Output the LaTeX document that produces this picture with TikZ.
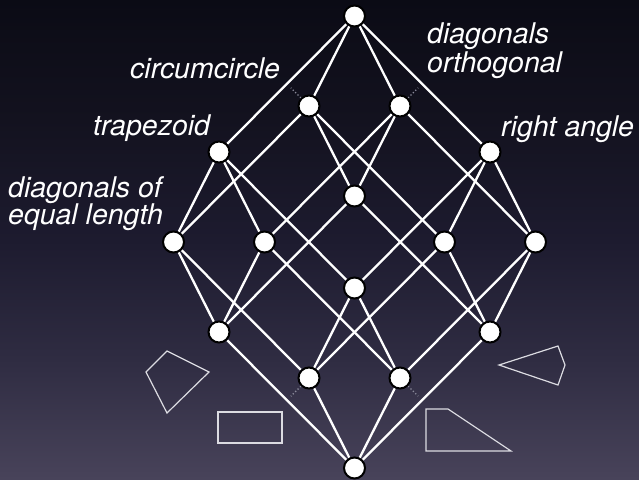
\documentclass[tikz,border=0pt]{standalone}
\usepackage{fontspec}
\setmainfont{TeX Gyre Heros}
\usetikzlibrary{calc}

\definecolor{bgtop}{HTML}{0B0B15}
\definecolor{bgq1}{HTML}{13121F}
\definecolor{bgmid}{HTML}{1D1B2F}
\definecolor{bgq3}{HTML}{2F2C42}
\definecolor{bgbot}{HTML}{48435A}
\definecolor{dotgray}{HTML}{8A8A9A}
\definecolor{shapeline}{HTML}{DCDCE2}

% vertical backdrop; TikZ maps the filled box onto the 25bp--75bp band
\pgfdeclareverticalshading{backdrop}{100bp}{%
  color(0bp)=(bgbot); color(25bp)=(bgbot); color(37.5bp)=(bgq3);
  color(49.95bp)=(bgmid); color(62.5bp)=(bgq1);
  color(75bp)=(bgtop); color(100bp)=(bgtop)}

\pgfdeclarelayer{under}
\pgfsetlayers{under,main}

\tikzset{
  vertex/.style={circle, fill=white, draw=black, line width=2pt,
                 minimum size=21pt, inner sep=0pt},
  edge/.style={white, line width=2.3pt},
  dotline/.style={dotgray, line width=1.4pt, dash pattern=on 1.2pt off 2.2pt},
  quad/.style={shapeline, line width=1.2pt, line join=miter},
  lbl/.style={text=white, anchor=base west, inner sep=0pt,
              font=\fontsize{28.5}{30}\selectfont\itshape},
}

\begin{document}
\begin{tikzpicture}[x=1pt, y=-1pt]
  \useasboundingbox (0,0) rectangle (639,479);
  \begin{pgfonlayer}{under}
    \shade[shading=backdrop] (0,0) rectangle (639,479);
  \end{pgfonlayer}

  % Hasse diagram of a 4-cube: top plus generators a, b, c, d
  \coordinate (top) at (354.5,16);
  \coordinate (ga) at (-45.5,90);
  \coordinate (gb) at (45.5,90);
  \coordinate (gc) at (-135.5,136);
  \coordinate (gd) at (135.5,136);

  \node[vertex] (n0)    at (top) {};
  \node[vertex] (na)    at ($(top)+(ga)$) {};
  \node[vertex] (nb)    at ($(top)+(gb)$) {};
  \node[vertex] (nc)    at ($(top)+(gc)$) {};
  \node[vertex] (nd)    at ($(top)+(gd)$) {};
  \node[vertex] (nab)   at ($(top)+(ga)+(gb)$) {};
  \node[vertex] (nac)   at ($(top)+(ga)+(gc)$) {};
  \node[vertex] (nad)   at ($(top)+(ga)+(gd)$) {};
  \node[vertex] (nbc)   at ($(top)+(gb)+(gc)$) {};
  \node[vertex] (nbd)   at ($(top)+(gb)+(gd)$) {};
  \node[vertex] (ncd)   at ($(top)+(gc)+(gd)$) {};
  \node[vertex] (nabc)  at ($(top)+(ga)+(gb)+(gc)$) {};
  \node[vertex] (nabd)  at ($(top)+(ga)+(gb)+(gd)$) {};
  \node[vertex] (nacd)  at ($(top)+(ga)+(gc)+(gd)$) {};
  \node[vertex] (nbcd)  at ($(top)+(gb)+(gc)+(gd)$) {};
  \node[vertex] (nabcd) at ($(top)+(ga)+(gb)+(gc)+(gd)$) {};

  \begin{pgfonlayer}{under}
    \foreach \u/\v in {n0/na, n0/nb, n0/nc, n0/nd,
                       na/nab, na/nac, na/nad,
                       nb/nab, nb/nbc, nb/nbd,
                       nc/nac, nc/nbc, nc/ncd,
                       nd/nad, nd/nbd, nd/ncd,
                       nab/nabc, nab/nabd, nac/nabc, nac/nacd,
                       nad/nabd, nad/nacd, nbc/nabc, nbc/nbcd,
                       nbd/nabd, nbd/nbcd, ncd/nacd, ncd/nbcd,
                       nabc/nabcd, nabd/nabcd, nacd/nabcd, nbcd/nabcd}
      \draw[edge] (\u) -- (\v);
  \end{pgfonlayer}

  % short dotted leads
  \draw[dotline] (na.135) -- ++(-10,-10);
  \draw[dotline] (nb.45) -- ++(10,-10);
  \draw[dotline] (nacd.225) -- ++(-10,10);
  \draw[dotline] (nbcd.315) -- ++(10,10);

  % labels
  \node[lbl] (lcirc) at (130,78)  {circumcircle};
  \node[lbl] (ltrap) at (93,135)  {trapezoid};
  \node[lbl] (leq1)  at (8,197)   {diagonals of};
  \node[lbl] (leq2)  at (8,224)   {equal length};
  \node[lbl] (lor1)  at (427,43)  {diagonals};
  \node[lbl] (lor2)  at (427,72)  {orthogonal};
  \node[lbl] (lright) at (501,136) {right angle};

  % sample quadrilaterals
  \draw[quad] (167,351) -- (209,372) -- (167,413) -- (146,372) -- cycle;
  \draw[quad] (218,412) rectangle (282,443);
  \draw[quad] (426,409) -- (448,409) -- (511,451) -- (426,451) -- cycle;
  \draw[quad] (499,365) -- (558,346) -- (565,365) -- (558,385) -- cycle;
\end{tikzpicture}
\end{document}
